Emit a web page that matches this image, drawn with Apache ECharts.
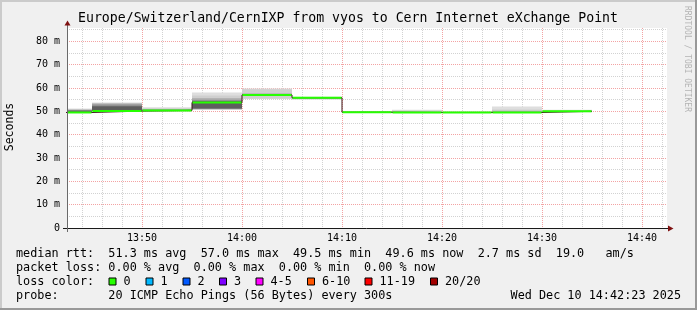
<!DOCTYPE html>
<html><head><meta charset="utf-8">
<script src="https://cdn.jsdelivr.net/npm/echarts@6/dist/echarts.min.js"></script>
<style>html,body{margin:0;padding:0;background:#f0f0f0}#c{width:697px;height:310px}</style>
</head><body><div id="c"></div>
<script>
// ---- data (5-minute slots) ----
const slotStart = ['13:40','13:45','13:50','13:55','14:00','14:05','14:10','14:15','14:20','14:25','14:30'];
const slotEnd = '14:35';
const medianRtt = [49.5, 50.1, 50.4, 53.8, 57.0, 55.8, 49.6, 49.5, 49.5, 49.5, 50.0];
// sorted ping rtts (smoke), outer pair to inner pair
const ping01 = [49.3, 49.9, 49.9, 50.7, 55.3, 55.0, 49.3, 49.3, 49.3, 49.3, 49.6];
const ping20 = [51.2, 53.8, 51.7, 58.1, 59.8, 56.2, 49.9, 50.7, 49.9, 52.1, 50.7];
const ping03 = [49.4, 50.0, 50.0, 50.8, 55.4, 55.3, 49.4, 49.4, 49.4, 49.4, 49.8];
const ping18 = [51.0, 53.6, 51.3, 56.8, 59.5, 56.0, 49.8, 50.3, 49.8, 50.8, 50.4];
const ping05 = [49.5, 50.05, 50.1, 50.9, 56.7, 55.5, 49.4, 49.4, 49.4, 49.4, 49.9];
const ping16 = [50.7, 53.3, 51.0, 55.7, 57.7, 55.95, 49.7, 49.9, 49.7, 50.2, 50.2];
const ping07 = [49.6, 50.1, 50.2, 51.0, 56.9, 55.6, 49.5, 49.5, 49.5, 49.5, 49.9];
const ping14 = [50.5, 52.9, 50.8, 55.0, 57.35, 55.9, 49.7, 49.7, 49.7, 49.8, 50.1];
const ping09 = [49.8, 50.1, 50.3, 51.2, 57.0, 55.7, 49.5, 49.5, 49.5, 49.5, 50.0];
const ping12 = [50.3, 52.2, 50.6, 54.3, 57.2, 55.85, 49.6, 49.6, 49.6, 49.6, 50.05];
const xTickLabels = ['13:50','14:00','14:10','14:20','14:30','14:40'];
const yTickLabels = ['0','10 m','20 m','30 m','40 m','50 m','60 m','70 m','80 m'];
const viewStart = '13:42:30', viewEnd = '14:42:30';

const titleText = 'Europe/Switzerland/CernIXP from vyos to Cern Internet eXchange Point';
const rttLine = 'median rtt:  51.3 ms avg  57.0 ms max  49.5 ms min  49.6 ms now  2.7 ms sd  19.0   am/s';
const lossLine = 'packet loss: 0.00 % avg  0.00 % max  0.00 % min  0.00 % now';
const probeLine = 'probe:       20 ICMP Echo Pings (56 Bytes) every 300s';
const stampText = 'Wed Dec 10 14:42:23 2025';
const lossLabels = ['0','1','2','3','4-5','6-10','11-19','20/20'];
const lossColors = ['#26ff00','#00b8ff','#0059ff','#7e00ff','#ff00ff','#ff5500','#ff0000','#a10000'];

// ---- styles / layout ----
const smokeShades = ['#dedede','#cfcfcf','#b3b3b3','#929292','#5e5e5e'];
const lossLegendX = [109, 146, 183, 219.5, 256, 307.5, 365, 430.5];
const MONO = 'DejaVu Sans Mono';

const toMin = s => { const p = s.split(':').map(Number); return p[0]*60 + p[1] + (p[2]||0)/60; };
const fmtMin = v => { const h = Math.floor(v/60), m = Math.round(v - h*60); return String(h).padStart(2,'0') + ':' + String(m).padStart(2,'0'); };
const starts = slotStart.map(toMin);
const ends = starts.slice(1).concat([toMin(slotEnd)]);
const xMin = toMin(viewStart), xMax = toMin(viewEnd);

const bandPairs = [[ping01, ping20],[ping03, ping18],[ping05, ping16],[ping07, ping14],[ping09, ping12]];
const bandData = [];
bandPairs.forEach((pair, b) => {
  starts.forEach((t, i) => bandData.push([t, ends[i], pair[0][i], pair[1][i], b]));
});
const medianSegs = starts.map((t, i) => [t, ends[i], medianRtt[i]]);
const medianStep = starts.map((t, i) => [t, medianRtt[i]]).concat([[ends[ends.length-1], medianRtt[medianRtt.length-1]]]);

function renderBand(params, api) {
  const cs = params.coordSys;
  const p0 = api.coord([api.value(0), api.value(3)]);
  const p1 = api.coord([api.value(1), api.value(2)]);
  const shape = echarts.graphic.clipRectByRect(
    {x: p0[0], y: p0[1], width: p1[0]-p0[0], height: p1[1]-p0[1]},
    {x: cs.x, y: cs.y, width: cs.width, height: cs.height});
  return shape && {type: 'rect', shape: shape, style: {fill: smokeShades[api.value(4)]}};
}
function renderMedian(params, api) {
  const cs = params.coordSys;
  const a = api.coord([api.value(0), api.value(2)]);
  const b = api.coord([api.value(1), api.value(2)]);
  const x0 = Math.max(a[0], cs.x), x1 = Math.min(b[0], cs.x + cs.width);
  return {type: 'line', shape: {x1: x0 + 0.5, y1: a[1], x2: x1 - 0.5, y2: a[1]}, style: {stroke: '#26ff00', lineWidth: 2}};
}

const graphics = [
  {type:'rect', shape:{x:0,y:0,width:697,height:2}, style:{fill:'#cbcbcb'}, z:1},
  {type:'rect', shape:{x:0,y:0,width:2,height:310}, style:{fill:'#cbcbcb'}, z:1},
  {type:'rect', shape:{x:0,y:308,width:697,height:2}, style:{fill:'#999999'}, z:1},
  {type:'rect', shape:{x:695,y:0,width:2,height:310}, style:{fill:'#999999'}, z:1},
  // axes
  {type:'line', shape:{x1:63,y1:228.5,x2:670,y2:228.5}, style:{stroke:'#1a1a1a', lineWidth:1}, z:20},
  {type:'line', shape:{x1:67.5,y1:232,x2:67.5,y2:24}, style:{stroke:'#6a6a6a', lineWidth:1}, z:20},
  {type:'polygon', shape:{points:[[64.5,25.5],[70.5,25.5],[67.5,20.5]]}, style:{fill:'#7f1111'}, z:21},
  {type:'polygon', shape:{points:[[668,225.5],[668,231.5],[673.5,228.5]]}, style:{fill:'#7f1111'}, z:21},
  // side texts
  {type:'text', x:10, y:127, rotation:Math.PI/2, style:{text:'Seconds', font:'11.5px "'+MONO+'"', fill:'#000', align:'center', verticalAlign:'middle'}, z:20},
  {type:'text', x:687, y:59, rotation:-Math.PI/2, style:{text:'RRDTOOL / TOBI OETIKER', font:'8px "'+MONO+'"', fill:'#b4b4b4', align:'center', verticalAlign:'middle'}, z:20},
  {type:'text', x:348, y:19, style:{text:titleText, font:'13.2px "'+MONO+'"', fill:'#000', align:'center', verticalAlign:'middle'}, z:20},
  // legend
  {type:'text', x:16, y:254, style:{text:rttLine, font:'11.8px "'+MONO+'"', fill:'#000', align:'left', verticalAlign:'middle'}, z:20},
  {type:'text', x:16, y:268, style:{text:lossLine, font:'11.8px "'+MONO+'"', fill:'#000', align:'left', verticalAlign:'middle'}, z:20},
  {type:'text', x:16, y:282, style:{text:'loss color:', font:'11.8px "'+MONO+'"', fill:'#000', align:'left', verticalAlign:'middle'}, z:20},
  {type:'text', x:16, y:296, style:{text:probeLine, font:'11.8px "'+MONO+'"', fill:'#000', align:'left', verticalAlign:'middle'}, z:20},
  {type:'text', x:681, y:296, style:{text:stampText, font:'11.8px "'+MONO+'"', fill:'#000', align:'right', verticalAlign:'middle'}, z:20}
];
lossLabels.forEach((lab, i) => {
  graphics.push({type:'rect', shape:{x:lossLegendX[i], y:278, width:7, height:7}, style:{fill:lossColors[i], stroke:'#000', lineWidth:1}, z:20});
  graphics.push({type:'text', x:lossLegendX[i]+14.5, y:282, style:{text:lab, font:'11.8px "'+MONO+'"', fill:'#000', align:'left', verticalAlign:'middle'}, z:20});
});

const labelStyle = {fontFamily: MONO, fontSize: 10, color: '#000'};
const option = {
  animation: false,
  backgroundColor: '#f0f0f0',
  grid: {left: 67, top: 28, width: 600, height: 200, show: true, backgroundColor: '#ffffff', borderWidth: 0},
  xAxis: [
    {type:'value', min:xMin, max:xMax, splitNumber:6, z:1,
     axisLine:{show:false}, axisTick:{show:false},
     axisLabel:Object.assign({margin:5, formatter: v => xTickLabels.indexOf(fmtMin(v)) >= 0 && Math.abs(v % 10) < 1e-6 ? fmtMin(v) : ''}, labelStyle),
     splitLine:{show:true, showMinLine:false, showMaxLine:false, lineStyle:{color:'#f3a3a3', width:1, type:[1,1]}}},
    {type:'value', min:xMin, max:xMax, splitNumber:30, position:'top', z:0,
     axisLine:{show:false}, axisTick:{show:false}, axisLabel:{show:false},
     splitLine:{show:true, showMinLine:false, showMaxLine:false, lineStyle:{color:'#d2d2d2', width:1, type:[1,1]}}}
  ],
  yAxis: [
    {type:'value', min:0, max:85.7, interval:10, z:1,
     axisLine:{show:false}, axisTick:{show:false},
     axisLabel:Object.assign({margin:7, formatter: v => (Math.abs(v % 10) < 1e-6 && yTickLabels[v/10] !== undefined) ? yTickLabels[v/10] : ''}, labelStyle),
     splitLine:{show:true, showMinLine:false, showMaxLine:false, lineStyle:{color:'#f3a3a3', width:1, type:[1,1]}}},
    {type:'value', min:0, max:85.7, interval:5, position:'right', z:0,
     axisLine:{show:false}, axisTick:{show:false}, axisLabel:{show:false},
     splitLine:{show:true, showMinLine:false, showMaxLine:false, lineStyle:{color:'#d2d2d2', width:1, type:[1,1]}}}
  ],
  series: [
    {type:'custom', name:'smoke', xAxisIndex:0, yAxisIndex:0, renderItem: renderBand, data: bandData,
     encode:{x:[0,1], y:[2,3]}, z:2, silent:true},
    {type:'line', name:'median step', xAxisIndex:0, yAxisIndex:0, data: medianStep, step:'end', symbol:'none',
     lineStyle:{color:'#3a1414', width:1}, z:3, silent:true},
    {type:'custom', name:'median', xAxisIndex:0, yAxisIndex:0, renderItem: renderMedian, data: medianSegs,
     encode:{x:[0,1], y:2}, z:4, silent:true}
  ],
  graphic: graphics
};
const chart = echarts.init(document.getElementById('c'), null, {width: 697, height: 310});
chart.setOption(option);
</script>
</body></html>
